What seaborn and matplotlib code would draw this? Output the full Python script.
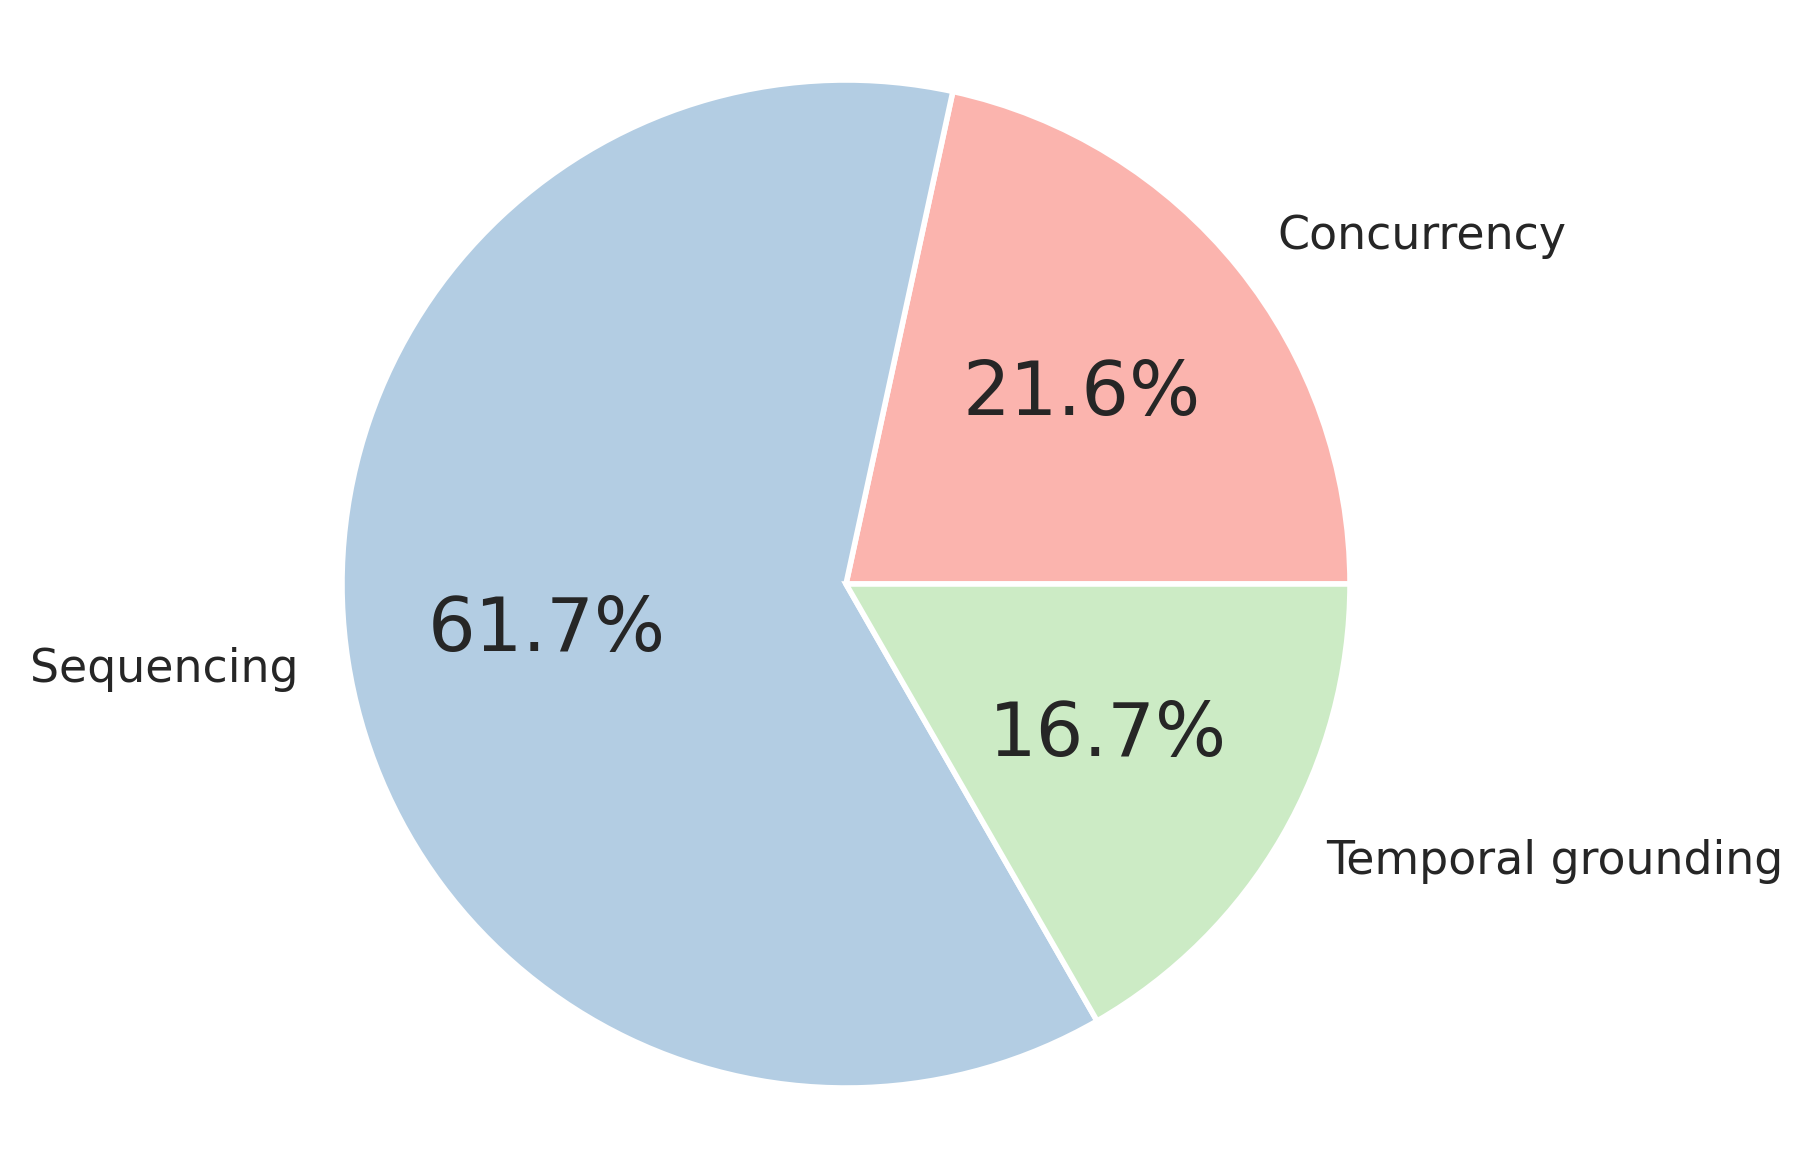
import matplotlib
matplotlib.use("Agg")
import matplotlib.pyplot as plt
import seaborn as sns

categories = ["Concurrency", "Sequencing", "Temporal grounding"]
shares = [21.6, 61.7, 16.7]

sns.set_theme(style="white")
plt.rcParams['font.family'] = ['DejaVu Sans']
colors = sns.color_palette("Pastel1", 3)

fig = plt.figure(figsize=(18.13 / 2, 11.68 / 2), dpi=200)
W, H = 1813, 1168
cx, cy, r = 846, 584, 504
ax = fig.add_axes([(cx - r) / W, (H - cy - r) / H, 2 * r / W, 2 * r / H])
wedges, texts, autotexts = ax.pie(
    shares, labels=categories, colors=colors, autopct="%1.1f%%",
    startangle=0, counterclock=True,
    wedgeprops=dict(edgecolor="white", linewidth=2),
    textprops=dict(color="#262626"),
)
for t in texts:
    t.set_fontsize(16.5)
for t in autotexts:
    t.set_fontsize(27)
ax.set_xlim(-1, 1)
ax.set_ylim(-1, 1)
ax.set_aspect("equal")
fig.savefig("out.png", dpi=200)
